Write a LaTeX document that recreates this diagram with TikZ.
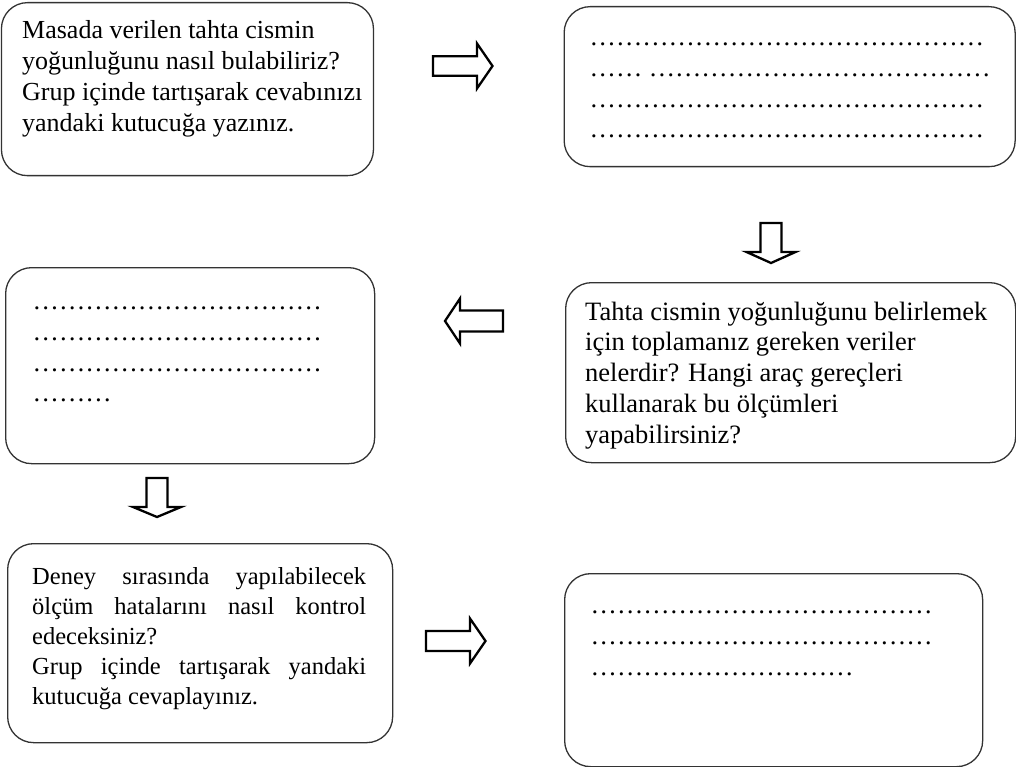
\documentclass[tikz,border=0pt]{standalone}
\usepackage{fontspec}
\setmainfont{Liberation Serif}
\newcommand\eI{…}
\newcommand\eV{\eI\eI\eI\eI\eI}
\tikzset{
  box/.style={draw=black!80, line width=1.3pt, rounded corners=26pt, anchor=north west, inner sep=0pt},
  txt/.style={anchor=base west, inner sep=0pt, font=\fontsize{#1}{30.8}\selectfont},
  txt/.default=26.5,
  arrowline/.style={draw=black, line width=2.3pt, fill=white, line join=miter},
  pics/blockarrow/.style n args={4}{code={%
    \path[arrowline] (0,-#1) -- (#3,-#1) -- (#3,-#2) -- (#4,0) -- (#3,#2) -- (#3,#1) -- (0,#1) -- cycle;}}
}
\begin{document}
\begin{tikzpicture}[x=1pt,y=-1pt]
\useasboundingbox (0,0) rectangle (1016,767);

% boxes
\node[box, minimum width=372pt, minimum height=173pt] (b1) at (0.8,2) {};
\node[box, minimum width=451pt, minimum height=160pt] (b2) at (563.5,6) {};
\node[box, minimum width=369pt, minimum height=196pt] (b3) at (5,267) {};
\node[box, minimum width=450pt, minimum height=180pt] (b4) at (565,282) {};
\node[box, minimum width=385pt, minimum height=199pt] (b5) at (7,543) {};
\node[box, minimum width=418pt, minimum height=193pt] (b6) at (564,573) {};

% texts
\node[txt=26] (t1) at (22,39) {\parbox[t]{360pt}{\raggedright
Masada verilen tahta cismin\\
yoğunluğunu nasıl bulabiliriz?\\
Grup içinde tartışarak cevabınızı\\
yandaki kutucuğa yazınız.}};

\node[txt=26.3] (t2) at (589.5,45.5) {\parbox[t]{425pt}{\raggedright
\eV\eV\eV\\
\eI\eI{} \eV\eV\eI\eI\eI\\
\eV\eV\eV\\
\eV\eV\eV}};

\node[txt=26.3] (t3) at (32.5,309.5) {\parbox[t]{330pt}{\raggedright
\eV\eV\eI\\
\eV\eV\eI\\
\eV\eV\eI\\
\eI\eI\eI}};

\node[txt=26.5] (t4) at (585,320) {\parbox[t]{425pt}{\raggedright
Tahta cismin yoğunluğunu belirlemek\\
için toplamanız gereken veriler\\
nelerdir? Hangi araç gereçleri\\
kullanarak bu ölçümleri\\
yapabilirsiniz?}};

\node[txt=24.5] (t5) at (32,584) {\parbox[t]{334pt}{\fontsize{24.5}{30.2}\selectfont
Deney sırasında yapılabilecek\linebreak
ölçüm hatalarını nasıl kontrol\linebreak
edeceksiniz?\\
Grup içinde tartışarak yandaki\linebreak
kutucuğa cevaplayınız.}};

\node[txt=26.3] (t6) at (590.5,613.5) {\parbox[t]{400pt}{\raggedright
\eV\eV\eI\eI\eI\\
\eV\eV\eI\eI\eI\\
\eV\eV}};

% block arrows
\pic (a1) at (433,66) {blockarrow={9.8}{22.5}{44}{59.5}};
\pic[rotate=-90] (a2) at (771,223) {blockarrow={10.5}{24.5}{29}{40}};
\pic[rotate=180] (a3) at (503,321) {blockarrow={10.5}{22.5}{43}{58}};
\pic[rotate=-90] (a4) at (157,478) {blockarrow={10.5}{24}{29}{39}};
\pic (a5) at (426,641) {blockarrow={10}{22.5}{44}{59.5}};
\end{tikzpicture}
\end{document}
